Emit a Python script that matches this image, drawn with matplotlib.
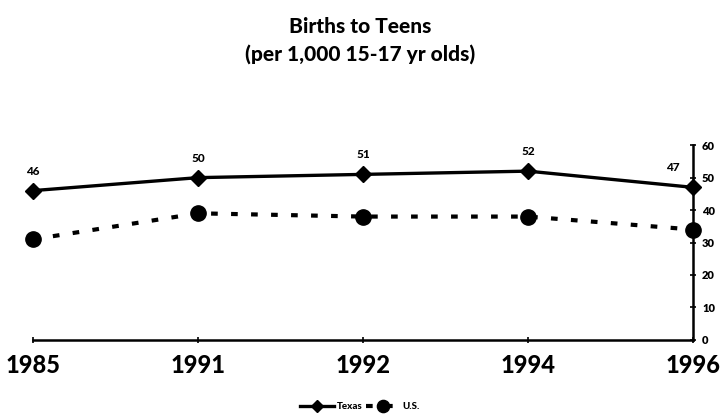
import matplotlib
matplotlib.use("Agg")
import matplotlib.pyplot as plt

years = ["1985", "1991", "1992", "1994", "1996"]
texas = [46, 50, 51, 52, 47]
us = [31, 39, 38, 38, 34]
y_ticks = [0, 10, 20, 30, 40, 50, 60]

plt.rcParams['font.family'] = ['Lato', 'DejaVu Sans']
plt.rcParams['font.weight'] = 'heavy'

fig = plt.figure(figsize=(7.2, 4.16), dpi=100)
ax = fig.add_axes([0.046, 0.183, 0.9165, 0.468])

x = list(range(len(years)))
ax.plot(x, texas, color='black', lw=2.4, marker='D', ms=8, label='Texas', zorder=3)
ax.plot(x, us, color='black', lw=3, ls=(0, (1.6, 3.2)), marker='o', ms=11,
        label='U.S.', zorder=3)

for i, v in enumerate(texas):
    dx = -0.12 if i == len(texas) - 1 else 0
    ax.annotate(str(v), (x[i] + dx, v), xytext=(0, 10), textcoords='offset points',
                ha='center', va='bottom', fontsize=8.5, fontweight='black')

ax.set_xlim(0, len(years) - 1)
ax.set_ylim(0, 60)
ax.set_xticks(x)
ax.set_xticklabels(years, fontsize=17, fontweight='black')
ax.set_yticks(y_ticks)
for lbl in ax.get_yticklabels():
    lbl.set_fontweight('black')
ax.yaxis.tick_right()
ax.tick_params(axis='y', direction='inout', length=5, width=1.2, labelsize=8, pad=4)
ax.tick_params(axis='x', direction='inout', length=5, width=1.2, pad=8)
ax.spines['left'].set_visible(False)
ax.spines['top'].set_visible(False)
ax.spines['bottom'].set_linewidth(1.8)
ax.spines['right'].set_linewidth(1.8)
ax.spines['right'].set_clip_on(False)
for line in ax.lines:
    line.set_clip_on(False)

fig.suptitle("Births to Teens\n(per 1,000 15-17 yr olds)", fontsize=15,
             fontweight='black', y=0.96, linespacing=1.5)

leg = fig.legend(loc='lower center', ncol=2, frameon=False, fontsize=7,
                 bbox_to_anchor=(0.5, -0.01), handlelength=3.5, columnspacing=0.3,
                 handletextpad=0.3, markerscale=0.8)
for t in leg.get_texts():
    t.set_fontweight('black')

fig.savefig("out.png", dpi=100)
